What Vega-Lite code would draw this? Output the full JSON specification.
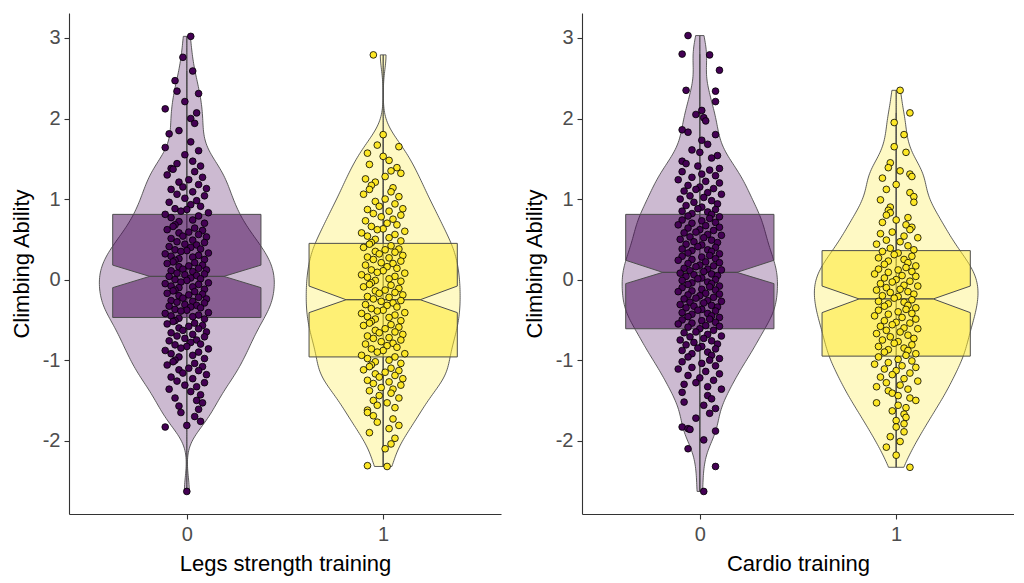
{
  "$schema": "https://vega.github.io/schema/vega-lite/v6.json",
  "background": "white",
  "padding": {"left": 10, "top": 13, "right": 0, "bottom": 6},
  "spacing": 22,
  "config": {
    "view": {"stroke": null},
    "axis": {
      "labelFont": "Liberation Sans", "titleFont": "Liberation Sans", "titleFontWeight": "normal",
      "domainColor": "#333333", "tickColor": "#333333", "domainWidth": 1.1, "tickWidth": 1.1,
      "labelColor": "#4d4d4d", "titleColor": "#000000", "labelFontSize": 20, "titleFontSize": 22,
      "tickSize": 5, "grid": false
    }
  },
  "datasets": {
    "legs0": [
      {"x":0.02,"y":3.02},{"x":-0.02,"y":2.76},{"x":0.03,"y":2.59},{"x":-0.06,"y":2.47},{"x":-0.05,"y":2.34},{"x":0.06,"y":2.31},{"x":-0.01,"y":2.21},
      {"x":-0.11,"y":2.12},{"x":0.05,"y":2.07},{"x":0.02,"y":2.0},{"x":0.04,"y":1.94},{"x":-0.04,"y":1.85},{"x":-0.09,"y":1.81},{"x":0.02,"y":1.71},{"x":-0.11,"y":1.64},
      {"x":0.06,"y":1.6},{"x":-0.01,"y":1.55},{"x":0.03,"y":1.47},{"x":-0.05,"y":1.44},{"x":0.07,"y":1.41},{"x":-0.08,"y":1.38},
      {"x":-0.07,"y":1.37},{"x":0.04,"y":1.34},{"x":-0.1,"y":1.3},{"x":0.08,"y":1.27},{"x":0.01,"y":1.24},{"x":-0.04,"y":1.21},{"x":0.06,"y":1.18},{"x":-0.02,"y":1.15},{"x":0.1,"y":1.13},
      {"x":-0.08,"y":1.12},{"x":0.03,"y":1.09},{"x":-0.05,"y":1.06},{"x":0.09,"y":1.04},{"x":-0.01,"y":1.01},{"x":0.05,"y":0.98},{"x":-0.09,"y":0.96},{"x":0.02,"y":0.93},{"x":0.07,"y":0.91},{"x":-0.06,"y":0.88},
      {"x":0.0,"y":0.87},{"x":-0.03,"y":0.85},{"x":0.11,"y":0.83},{"x":-0.11,"y":0.81},{"x":0.06,"y":0.79},{"x":-0.08,"y":0.77},{"x":0.03,"y":0.74},{"x":-0.04,"y":0.72},{"x":0.09,"y":0.7},{"x":-0.06,"y":0.68},{"x":-0.07,"y":0.66},{"x":0.04,"y":0.64},
      {"x":-0.1,"y":0.62},{"x":0.08,"y":0.61},{"x":0.01,"y":0.59},{"x":-0.04,"y":0.58},{"x":0.06,"y":0.56},{"x":-0.02,"y":0.54},{"x":0.1,"y":0.53},{"x":-0.08,"y":0.51},{"x":0.03,"y":0.49},{"x":-0.05,"y":0.47},{"x":0.09,"y":0.46},{"x":-0.01,"y":0.44},{"x":0.05,"y":0.43},{"x":-0.09,"y":0.41},{"x":0.02,"y":0.4},{"x":0.07,"y":0.38},
      {"x":-0.06,"y":0.37},{"x":0.0,"y":0.36},{"x":-0.03,"y":0.35},{"x":0.11,"y":0.33},{"x":-0.11,"y":0.32},{"x":0.06,"y":0.3},{"x":-0.08,"y":0.29},{"x":0.03,"y":0.28},{"x":-0.04,"y":0.26},{"x":0.09,"y":0.25},{"x":-0.06,"y":0.24},{"x":-0.07,"y":0.22},{"x":0.04,"y":0.21},{"x":-0.1,"y":0.2},{"x":0.08,"y":0.18},{"x":0.01,"y":0.17},{"x":-0.04,"y":0.16},{"x":0.06,"y":0.14},{"x":-0.02,"y":0.13},
      {"x":0.1,"y":0.12},{"x":-0.08,"y":0.11},{"x":0.03,"y":0.1},{"x":-0.05,"y":0.08},{"x":0.09,"y":0.07},{"x":-0.01,"y":0.06},{"x":0.05,"y":0.05},{"x":-0.09,"y":0.04},{"x":0.02,"y":0.02},{"x":0.07,"y":0.01},{"x":-0.06,"y":0.0},{"x":0.0,"y":-0.01},{"x":-0.03,"y":-0.03},{"x":0.11,"y":-0.04},{"x":-0.11,"y":-0.05},{"x":0.06,"y":-0.06},{"x":-0.08,"y":-0.08},{"x":0.03,"y":-0.09},{"x":-0.04,"y":-0.1},{"x":0.09,"y":-0.12},
      {"x":-0.06,"y":-0.13},{"x":-0.07,"y":-0.14},{"x":0.04,"y":-0.15},{"x":-0.1,"y":-0.17},{"x":0.08,"y":-0.18},{"x":0.01,"y":-0.19},{"x":-0.04,"y":-0.2},{"x":0.06,"y":-0.22},{"x":-0.02,"y":-0.23},{"x":0.1,"y":-0.24},{"x":-0.08,"y":-0.26},{"x":0.03,"y":-0.27},{"x":-0.05,"y":-0.28},{"x":0.09,"y":-0.29},{"x":-0.01,"y":-0.31},{"x":0.05,"y":-0.32},{"x":-0.09,"y":-0.33},{"x":0.02,"y":-0.34},{"x":0.07,"y":-0.35},{"x":-0.06,"y":-0.37},
      {"x":0.0,"y":-0.38},{"x":-0.03,"y":-0.39},{"x":0.11,"y":-0.41},{"x":-0.11,"y":-0.42},{"x":0.06,"y":-0.44},{"x":-0.08,"y":-0.45},{"x":0.03,"y":-0.46},{"x":-0.04,"y":-0.48},{"x":0.09,"y":-0.49},{"x":-0.06,"y":-0.51},{"x":-0.07,"y":-0.52},{"x":0.04,"y":-0.54},{"x":-0.1,"y":-0.55},{"x":0.08,"y":-0.57},{"x":0.01,"y":-0.58},{"x":-0.04,"y":-0.6},{"x":0.06,"y":-0.61},
      {"x":-0.02,"y":-0.63},{"x":0.1,"y":-0.65},{"x":-0.08,"y":-0.66},{"x":0.03,"y":-0.68},{"x":-0.05,"y":-0.7},{"x":0.09,"y":-0.71},{"x":-0.01,"y":-0.73},{"x":0.05,"y":-0.75},{"x":-0.09,"y":-0.76},{"x":0.02,"y":-0.78},{"x":0.07,"y":-0.8},{"x":-0.06,"y":-0.81},{"x":0.0,"y":-0.83},{"x":-0.03,"y":-0.85},{"x":0.11,"y":-0.86},
      {"x":-0.11,"y":-0.88},{"x":0.06,"y":-0.9},{"x":-0.08,"y":-0.92},{"x":0.03,"y":-0.94},{"x":-0.04,"y":-0.96},{"x":0.09,"y":-0.98},{"x":-0.06,"y":-1.0},{"x":-0.07,"y":-1.02},{"x":0.04,"y":-1.04},{"x":-0.1,"y":-1.06},{"x":0.08,"y":-1.08},{"x":0.01,"y":-1.1},{"x":-0.04,"y":-1.12},
      {"x":0.06,"y":-1.13},{"x":-0.02,"y":-1.16},{"x":0.1,"y":-1.18},{"x":-0.08,"y":-1.21},{"x":0.03,"y":-1.23},{"x":-0.05,"y":-1.26},{"x":0.09,"y":-1.28},{"x":-0.01,"y":-1.31},{"x":0.05,"y":-1.33},{"x":-0.09,"y":-1.36},
      {"x":0.02,"y":-1.39},{"x":0.07,"y":-1.43},{"x":-0.06,"y":-1.47},{"x":0.05,"y":-1.5},{"x":0.08,"y":-1.53},{"x":-0.04,"y":-1.57},{"x":0.06,"y":-1.61},
      {"x":-0.03,"y":-1.65},{"x":0.04,"y":-1.7},{"x":0.07,"y":-1.76},{"x":0.0,"y":-1.81},{"x":-0.11,"y":-1.83},{"x":0.0,"y":-2.63}
    ],
    "legs1": [
      {"x":0.95,"y":2.79},{"x":1.0,"y":1.8},{"x":0.97,"y":1.67},{"x":1.08,"y":1.65},
      {"x":0.92,"y":1.57},{"x":1.0,"y":1.53},{"x":1.03,"y":1.48},{"x":0.93,"y":1.43},{"x":1.07,"y":1.39},
      {"x":1.04,"y":1.35},{"x":1.09,"y":1.32},{"x":1.01,"y":1.28},{"x":0.91,"y":1.25},{"x":0.96,"y":1.21},{"x":0.94,"y":1.17},{"x":1.05,"y":1.14},
      {"x":0.93,"y":1.12},{"x":1.04,"y":1.09},{"x":0.9,"y":1.06},{"x":1.08,"y":1.03},{"x":1.01,"y":1.0},{"x":0.96,"y":0.97},{"x":1.06,"y":0.94},{"x":0.98,"y":0.91},{"x":1.1,"y":0.88},
      {"x":0.92,"y":0.87},{"x":1.03,"y":0.85},{"x":0.95,"y":0.82},{"x":1.09,"y":0.8},{"x":0.99,"y":0.78},{"x":1.05,"y":0.75},{"x":0.91,"y":0.73},{"x":1.02,"y":0.7},{"x":1.07,"y":0.68},{"x":0.94,"y":0.66},{"x":1.0,"y":0.63},
      {"x":0.97,"y":0.62},{"x":1.11,"y":0.6},{"x":0.89,"y":0.58},{"x":1.06,"y":0.56},{"x":0.92,"y":0.54},{"x":1.03,"y":0.52},{"x":0.96,"y":0.5},{"x":1.09,"y":0.48},{"x":0.94,"y":0.46},{"x":0.93,"y":0.44},{"x":1.04,"y":0.42},{"x":0.9,"y":0.4},{"x":1.08,"y":0.38},
      {"x":1.01,"y":0.37},{"x":0.96,"y":0.35},{"x":1.06,"y":0.34},{"x":0.98,"y":0.32},{"x":1.1,"y":0.3},{"x":0.92,"y":0.28},{"x":1.03,"y":0.27},{"x":0.95,"y":0.25},{"x":1.09,"y":0.23},{"x":0.99,"y":0.21},{"x":1.05,"y":0.2},{"x":0.91,"y":0.18},{"x":1.02,"y":0.16},{"x":1.07,"y":0.14},
      {"x":0.94,"y":0.12},{"x":1.0,"y":0.11},{"x":0.97,"y":0.09},{"x":1.11,"y":0.08},{"x":0.89,"y":0.06},{"x":1.06,"y":0.04},{"x":0.92,"y":0.03},{"x":1.03,"y":0.01},{"x":0.96,"y":-0.01},{"x":1.09,"y":-0.02},{"x":0.94,"y":-0.04},{"x":0.93,"y":-0.06},{"x":1.04,"y":-0.07},{"x":0.9,"y":-0.09},{"x":1.08,"y":-0.11},
      {"x":1.01,"y":-0.13},{"x":0.96,"y":-0.14},{"x":1.06,"y":-0.16},{"x":0.98,"y":-0.17},{"x":1.1,"y":-0.19},{"x":0.92,"y":-0.21},{"x":1.03,"y":-0.22},{"x":0.95,"y":-0.24},{"x":1.09,"y":-0.26},{"x":0.99,"y":-0.27},{"x":1.05,"y":-0.29},{"x":0.91,"y":-0.31},{"x":1.02,"y":-0.32},{"x":1.07,"y":-0.34},{"x":0.94,"y":-0.36},
      {"x":1.0,"y":-0.38},{"x":0.97,"y":-0.39},{"x":1.11,"y":-0.41},{"x":0.89,"y":-0.42},{"x":1.06,"y":-0.44},{"x":0.92,"y":-0.46},{"x":1.03,"y":-0.47},{"x":0.96,"y":-0.49},{"x":1.09,"y":-0.51},{"x":0.94,"y":-0.52},{"x":0.93,"y":-0.54},{"x":1.04,"y":-0.56},{"x":0.9,"y":-0.57},{"x":1.08,"y":-0.59},{"x":1.01,"y":-0.61},
      {"x":0.96,"y":-0.63},{"x":1.06,"y":-0.65},{"x":0.98,"y":-0.66},{"x":1.1,"y":-0.68},{"x":0.92,"y":-0.7},{"x":1.03,"y":-0.72},{"x":0.95,"y":-0.73},{"x":1.09,"y":-0.75},{"x":0.99,"y":-0.77},{"x":1.05,"y":-0.79},{"x":0.91,"y":-0.8},{"x":1.02,"y":-0.82},{"x":1.07,"y":-0.84},{"x":0.94,"y":-0.86},
      {"x":1.0,"y":-0.88},{"x":0.97,"y":-0.9},{"x":1.11,"y":-0.92},{"x":0.89,"y":-0.94},{"x":1.06,"y":-0.96},{"x":0.92,"y":-0.98},{"x":1.03,"y":-1.0},{"x":0.96,"y":-1.02},{"x":1.09,"y":-1.04},{"x":0.94,"y":-1.06},{"x":0.93,"y":-1.08},{"x":1.04,"y":-1.1},{"x":0.9,"y":-1.12},
      {"x":1.08,"y":-1.13},{"x":1.01,"y":-1.15},{"x":0.96,"y":-1.17},{"x":1.06,"y":-1.19},{"x":0.98,"y":-1.21},{"x":1.1,"y":-1.23},{"x":0.92,"y":-1.25},{"x":1.03,"y":-1.27},{"x":0.95,"y":-1.29},{"x":1.09,"y":-1.31},{"x":0.99,"y":-1.34},{"x":1.05,"y":-1.36},
      {"x":0.93,"y":-1.38},{"x":1.04,"y":-1.41},{"x":0.98,"y":-1.44},{"x":1.08,"y":-1.47},{"x":0.95,"y":-1.5},{"x":1.02,"y":-1.53},{"x":0.97,"y":-1.56},{"x":1.06,"y":-1.59},{"x":0.92,"y":-1.62},
      {"x":0.92,"y":-1.65},{"x":0.95,"y":-1.69},{"x":1.05,"y":-1.73},{"x":0.97,"y":-1.77},{"x":1.08,"y":-1.81},{"x":1.03,"y":-1.85},
      {"x":0.93,"y":-1.9},{"x":1.06,"y":-1.97},{"x":1.04,"y":-2.04},{"x":1.01,"y":-2.1},{"x":0.92,"y":-2.31},{"x":1.02,"y":-2.32}
    ],
    "cardio0": [
      {"x":-0.06,"y":3.03},{"x":-0.09,"y":2.8},{"x":0.05,"y":2.79},{"x":0.1,"y":2.6},{"x":-0.07,"y":2.35},{"x":0.08,"y":2.34},{"x":0.08,"y":2.21},{"x":0.01,"y":2.1},{"x":-0.02,"y":2.05},{"x":0.02,"y":2.01},{"x":0.03,"y":1.97},
      {"x":-0.09,"y":1.86},{"x":-0.06,"y":1.83},{"x":0.08,"y":1.8},{"x":0.01,"y":1.73},{"x":0.04,"y":1.68},
      {"x":-0.04,"y":1.61},{"x":0.0,"y":1.58},{"x":0.09,"y":1.54},{"x":0.06,"y":1.51},{"x":-0.09,"y":1.47},{"x":-0.07,"y":1.44},{"x":-0.01,"y":1.41},{"x":0.1,"y":1.38},
      {"x":0.05,"y":1.36},{"x":-0.09,"y":1.34},{"x":0.01,"y":1.31},{"x":0.08,"y":1.29},{"x":-0.04,"y":1.27},{"x":-0.11,"y":1.24},{"x":0.03,"y":1.22},{"x":0.1,"y":1.2},{"x":-0.06,"y":1.17},{"x":0.0,"y":1.15},{"x":0.07,"y":1.13},
      {"x":-0.02,"y":1.12},{"x":-0.08,"y":1.1},{"x":0.04,"y":1.08},{"x":0.11,"y":1.06},{"x":-0.05,"y":1.04},{"x":0.02,"y":1.02},{"x":-0.1,"y":1.0},{"x":0.06,"y":0.98},{"x":-0.03,"y":0.96},{"x":0.09,"y":0.94},{"x":-0.07,"y":0.92},{"x":0.01,"y":0.9},{"x":-0.01,"y":0.88},
      {"x":0.08,"y":0.87},{"x":-0.09,"y":0.85},{"x":0.04,"y":0.84},{"x":-0.04,"y":0.82},{"x":0.06,"y":0.81},{"x":-0.06,"y":0.79},{"x":0.1,"y":0.78},{"x":0.05,"y":0.76},{"x":-0.09,"y":0.74},{"x":0.01,"y":0.73},{"x":0.08,"y":0.71},{"x":-0.04,"y":0.7},{"x":-0.11,"y":0.68},{"x":0.03,"y":0.67},{"x":0.1,"y":0.65},{"x":-0.06,"y":0.64},
      {"x":0.0,"y":0.62},{"x":0.07,"y":0.61},{"x":-0.02,"y":0.59},{"x":-0.08,"y":0.58},{"x":0.04,"y":0.56},{"x":0.11,"y":0.55},{"x":-0.05,"y":0.53},{"x":0.02,"y":0.52},{"x":-0.1,"y":0.5},{"x":0.06,"y":0.49},{"x":-0.03,"y":0.47},{"x":0.09,"y":0.46},{"x":-0.07,"y":0.44},{"x":0.01,"y":0.43},{"x":-0.01,"y":0.41},{"x":0.08,"y":0.4},{"x":-0.09,"y":0.38},
      {"x":0.04,"y":0.37},{"x":-0.04,"y":0.36},{"x":0.06,"y":0.35},{"x":-0.06,"y":0.33},{"x":0.1,"y":0.32},{"x":0.05,"y":0.3},{"x":-0.09,"y":0.29},{"x":0.01,"y":0.28},{"x":0.08,"y":0.26},{"x":-0.04,"y":0.25},{"x":-0.11,"y":0.24},{"x":0.03,"y":0.22},{"x":0.1,"y":0.21},{"x":-0.06,"y":0.2},{"x":0.0,"y":0.18},{"x":0.07,"y":0.17},{"x":-0.02,"y":0.16},{"x":-0.08,"y":0.14},{"x":0.04,"y":0.13},
      {"x":0.11,"y":0.12},{"x":-0.05,"y":0.11},{"x":0.02,"y":0.1},{"x":-0.1,"y":0.08},{"x":0.06,"y":0.07},{"x":-0.03,"y":0.06},{"x":0.09,"y":0.05},{"x":-0.07,"y":0.04},{"x":0.01,"y":0.02},{"x":-0.01,"y":0.01},{"x":0.08,"y":0.0},{"x":-0.09,"y":-0.01},{"x":0.04,"y":-0.03},{"x":-0.04,"y":-0.04},{"x":0.06,"y":-0.05},{"x":-0.06,"y":-0.06},{"x":0.1,"y":-0.08},{"x":0.05,"y":-0.09},{"x":-0.09,"y":-0.1},{"x":0.01,"y":-0.12},
      {"x":0.08,"y":-0.13},{"x":-0.04,"y":-0.14},{"x":-0.11,"y":-0.15},{"x":0.03,"y":-0.17},{"x":0.1,"y":-0.18},{"x":-0.06,"y":-0.19},{"x":0.0,"y":-0.2},{"x":0.07,"y":-0.22},{"x":-0.02,"y":-0.23},{"x":-0.08,"y":-0.24},{"x":0.04,"y":-0.26},{"x":0.11,"y":-0.27},{"x":-0.05,"y":-0.28},{"x":0.02,"y":-0.29},{"x":-0.1,"y":-0.31},{"x":0.06,"y":-0.32},{"x":-0.03,"y":-0.33},{"x":0.09,"y":-0.34},{"x":-0.07,"y":-0.35},{"x":0.01,"y":-0.37},
      {"x":-0.01,"y":-0.38},{"x":0.08,"y":-0.39},{"x":-0.09,"y":-0.41},{"x":0.04,"y":-0.42},{"x":-0.04,"y":-0.43},{"x":0.06,"y":-0.45},{"x":-0.06,"y":-0.46},{"x":0.1,"y":-0.47},{"x":0.05,"y":-0.49},{"x":-0.09,"y":-0.5},{"x":0.01,"y":-0.51},{"x":0.08,"y":-0.53},{"x":-0.04,"y":-0.54},{"x":-0.11,"y":-0.55},{"x":0.03,"y":-0.57},{"x":0.1,"y":-0.58},{"x":-0.06,"y":-0.59},{"x":0.0,"y":-0.61},
      {"x":0.07,"y":-0.63},{"x":-0.02,"y":-0.65},{"x":-0.08,"y":-0.66},{"x":0.04,"y":-0.68},{"x":0.11,"y":-0.7},{"x":-0.05,"y":-0.71},{"x":0.02,"y":-0.73},{"x":-0.1,"y":-0.75},{"x":0.06,"y":-0.76},{"x":-0.03,"y":-0.78},{"x":0.09,"y":-0.8},{"x":-0.07,"y":-0.81},{"x":0.01,"y":-0.83},{"x":-0.01,"y":-0.85},{"x":0.08,"y":-0.86},
      {"x":-0.09,"y":-0.88},{"x":0.04,"y":-0.9},{"x":-0.04,"y":-0.92},{"x":0.06,"y":-0.94},{"x":-0.06,"y":-0.96},{"x":0.1,"y":-0.98},{"x":0.05,"y":-1.0},{"x":-0.09,"y":-1.02},{"x":0.01,"y":-1.04},{"x":0.08,"y":-1.07},{"x":-0.04,"y":-1.09},{"x":-0.11,"y":-1.11},
      {"x":0.03,"y":-1.14},{"x":0.1,"y":-1.17},{"x":-0.06,"y":-1.19},{"x":0.0,"y":-1.22},{"x":0.07,"y":-1.25},{"x":-0.02,"y":-1.28},{"x":-0.08,"y":-1.3},{"x":0.04,"y":-1.33},{"x":0.11,"y":-1.36},
      {"x":-0.09,"y":-1.4},{"x":0.04,"y":-1.44},{"x":0.06,"y":-1.48},{"x":-0.08,"y":-1.52},{"x":0.02,"y":-1.56},{"x":0.08,"y":-1.6},
      {"x":0.05,"y":-1.66},{"x":-0.02,"y":-1.72},{"x":-0.09,"y":-1.83},{"x":-0.06,"y":-1.85},{"x":-0.05,"y":-1.86},{"x":0.08,"y":-1.88},{"x":0.02,"y":-1.99},{"x":-0.06,"y":-2.1},{"x":0.08,"y":-2.32},{"x":0.02,"y":-2.63}
    ],
    "cardio1": [
      {"x":1.02,"y":2.35},{"x":1.07,"y":2.07},{"x":0.99,"y":1.95},{"x":1.04,"y":1.8},{"x":0.99,"y":1.65},{"x":1.05,"y":1.58},{"x":0.97,"y":1.45},
      {"x":0.96,"y":1.39},{"x":1.02,"y":1.35},{"x":1.07,"y":1.31},{"x":1.08,"y":1.28},{"x":0.93,"y":1.26},
      {"x":1.0,"y":1.18},{"x":0.95,"y":1.12},{"x":1.07,"y":1.08},{"x":1.09,"y":1.03},{"x":0.92,"y":0.99},{"x":1.09,"y":0.96},{"x":0.97,"y":0.9},
      {"x":0.96,"y":0.86},{"x":0.97,"y":0.83},{"x":0.95,"y":0.8},{"x":1.06,"y":0.77},{"x":1.0,"y":0.74},{"x":0.93,"y":0.71},{"x":1.05,"y":0.68},{"x":1.08,"y":0.65},
      {"x":1.07,"y":0.62},{"x":0.98,"y":0.59},{"x":0.92,"y":0.57},{"x":1.04,"y":0.54},{"x":1.11,"y":0.52},{"x":0.95,"y":0.49},{"x":1.02,"y":0.47},{"x":0.9,"y":0.44},{"x":1.06,"y":0.42},{"x":0.97,"y":0.39},
      {"x":1.09,"y":0.37},{"x":0.93,"y":0.35},{"x":1.01,"y":0.33},{"x":0.99,"y":0.31},{"x":1.08,"y":0.29},{"x":0.91,"y":0.27},{"x":1.04,"y":0.25},{"x":0.96,"y":0.23},{"x":1.06,"y":0.21},{"x":0.94,"y":0.19},{"x":1.1,"y":0.17},{"x":1.05,"y":0.15},{"x":0.91,"y":0.13},
      {"x":1.01,"y":0.12},{"x":1.08,"y":0.1},{"x":0.96,"y":0.09},{"x":0.89,"y":0.07},{"x":1.03,"y":0.05},{"x":1.1,"y":0.04},{"x":0.94,"y":0.02},{"x":1.0,"y":0.0},{"x":1.07,"y":-0.02},{"x":0.98,"y":-0.03},{"x":0.92,"y":-0.05},{"x":1.04,"y":-0.07},{"x":1.11,"y":-0.08},{"x":0.95,"y":-0.1},{"x":1.02,"y":-0.12},
      {"x":0.9,"y":-0.13},{"x":1.06,"y":-0.15},{"x":0.97,"y":-0.16},{"x":1.09,"y":-0.18},{"x":0.93,"y":-0.2},{"x":1.01,"y":-0.21},{"x":0.99,"y":-0.23},{"x":1.08,"y":-0.25},{"x":0.91,"y":-0.27},{"x":1.04,"y":-0.28},{"x":0.96,"y":-0.3},{"x":1.06,"y":-0.32},{"x":0.94,"y":-0.33},{"x":1.1,"y":-0.35},{"x":1.05,"y":-0.37},
      {"x":0.91,"y":-0.38},{"x":1.01,"y":-0.4},{"x":1.08,"y":-0.42},{"x":0.96,"y":-0.43},{"x":0.89,"y":-0.45},{"x":1.03,"y":-0.47},{"x":1.1,"y":-0.49},{"x":0.94,"y":-0.51},{"x":1.0,"y":-0.53},{"x":1.07,"y":-0.54},{"x":0.98,"y":-0.56},{"x":0.92,"y":-0.58},{"x":1.04,"y":-0.6},{"x":1.11,"y":-0.61},
      {"x":0.95,"y":-0.63},{"x":1.02,"y":-0.65},{"x":0.9,"y":-0.67},{"x":1.06,"y":-0.69},{"x":0.97,"y":-0.71},{"x":1.09,"y":-0.73},{"x":0.93,"y":-0.75},{"x":1.01,"y":-0.77},{"x":0.99,"y":-0.79},{"x":1.08,"y":-0.81},{"x":0.91,"y":-0.83},{"x":1.04,"y":-0.85},{"x":0.96,"y":-0.87},
      {"x":1.06,"y":-0.88},{"x":0.94,"y":-0.9},{"x":1.1,"y":-0.92},{"x":1.05,"y":-0.94},{"x":0.91,"y":-0.96},{"x":1.01,"y":-0.99},{"x":1.08,"y":-1.01},{"x":0.96,"y":-1.03},{"x":0.89,"y":-1.05},{"x":1.03,"y":-1.07},{"x":1.1,"y":-1.09},{"x":0.94,"y":-1.11},
      {"x":1.0,"y":-1.13},{"x":1.07,"y":-1.16},{"x":0.98,"y":-1.18},{"x":0.92,"y":-1.21},{"x":1.04,"y":-1.23},{"x":1.11,"y":-1.26},{"x":0.95,"y":-1.28},{"x":1.02,"y":-1.31},{"x":0.9,"y":-1.33},{"x":1.06,"y":-1.36},
      {"x":0.96,"y":-1.38},{"x":0.98,"y":-1.41},{"x":1.01,"y":-1.44},{"x":1.07,"y":-1.47},{"x":1.1,"y":-1.5},{"x":0.9,"y":-1.53},{"x":1.01,"y":-1.56},{"x":1.05,"y":-1.59},
      {"x":0.98,"y":-1.63},{"x":1.04,"y":-1.67},{"x":1.05,"y":-1.71},{"x":1.0,"y":-1.75},{"x":1.04,"y":-1.79},{"x":1.0,"y":-1.83},
      {"x":1.04,"y":-1.89},{"x":0.97,"y":-1.95},{"x":1.02,"y":-2.01},{"x":0.95,"y":-2.08},{"x":1.0,"y":-2.18},{"x":1.07,"y":-2.33}
    ],
    "legsBox": [
      {"g":0,"part":"upper","y":0.04,"w":0.5},{"g":0,"part":"upper","y":0.18,"w":1},{"g":0,"part":"upper","y":0.81,"w":1},
      {"g":0,"part":"lower","y":-0.47,"w":1},{"g":0,"part":"lower","y":-0.1,"w":1},{"g":0,"part":"lower","y":0.04,"w":0.5},
      {"g":1,"part":"upper","y":-0.25,"w":0.5},{"g":1,"part":"upper","y":-0.08,"w":1},{"g":1,"part":"upper","y":0.45,"w":1},
      {"g":1,"part":"lower","y":-0.96,"w":1},{"g":1,"part":"lower","y":-0.41,"w":1},{"g":1,"part":"lower","y":-0.25,"w":0.5}
    ],
    "cardioBox": [
      {"g":0,"part":"upper","y":0.09,"w":0.5},{"g":0,"part":"upper","y":0.24,"w":1},{"g":0,"part":"upper","y":0.81,"w":1},
      {"g":0,"part":"lower","y":-0.61,"w":1},{"g":0,"part":"lower","y":-0.05,"w":1},{"g":0,"part":"lower","y":0.09,"w":0.5},
      {"g":1,"part":"upper","y":-0.24,"w":0.5},{"g":1,"part":"upper","y":-0.08,"w":1},{"g":1,"part":"upper","y":0.36,"w":1},
      {"g":1,"part":"lower","y":-0.95,"w":1},{"g":1,"part":"lower","y":-0.41,"w":1},{"g":1,"part":"lower","y":-0.24,"w":0.5}
    ],
    "legsWhisker": [
      {"g":0,"y":0.81,"y2":2.59},{"g":0,"y":-0.47,"y2":-1.83},{"g":1,"y":0.45,"y2":1.8},{"g":1,"y":-0.96,"y2":-2.32}
    ],
    "cardioWhisker": [
      {"g":0,"y":0.81,"y2":2.8},{"g":0,"y":-0.61,"y2":-2.63},{"g":1,"y":0.36,"y2":2.07},{"g":1,"y":-0.95,"y2":-2.33}
    ]
  },
  "hconcat": [
    {
      "width": 432,
      "height": 501,
      "resolve": {"scale": {"x": "independent"}},
      "encoding": {
        "y": {"field": "y", "type": "quantitative", "title": "Climbing Ability",
              "scale": {"domain": [-2.91, 3.31], "nice": false, "zero": false},
              "axis": {"values": [-2, -1, 0, 1, 2, 3], "labelExpr": "'' + datum.value", "labelPadding": 4, "titlePadding": 9}}
      },
      "layer": [
        {
          "data": {"name": "legs0"},
          "transform": [{"density": "y", "bandwidth": 0.18, "extent": [-2.63, 3.02], "steps": 200, "as": ["y", "density"]}],
          "mark": {"type": "area", "orient": "horizontal", "fill": "#440154", "fillOpacity": 0.27, "stroke": "#4d4d4d", "strokeWidth": 0.9},
          "encoding": {
            "x": {"field": "density", "type": "quantitative", "stack": null, "scale": {"domain": [-0.5455, 1.4545], "nice": false, "zero": false}, "axis": null}
          }
        },
        {
          "data": {"name": "legs0"},
          "transform": [{"density": "y", "bandwidth": 0.18, "extent": [-2.63, 3.02], "steps": 200, "as": ["y", "density"]}],
          "mark": {"type": "area", "orient": "horizontal", "fill": "#440154", "fillOpacity": 0.27, "stroke": "#4d4d4d", "strokeWidth": 0.9},
          "encoding": {
            "x": {"field": "density", "type": "quantitative", "stack": null, "scale": {"domain": [-1.4545, 0.5455], "reverse": true, "nice": false, "zero": false}, "axis": null}
          }
        },
        {
          "data": {"name": "legs1"},
          "transform": [{"density": "y", "bandwidth": 0.18, "extent": [-2.32, 2.79], "steps": 200, "as": ["y", "density"]}],
          "mark": {"type": "area", "orient": "horizontal", "fill": "#FDE725", "fillOpacity": 0.27, "stroke": "#4d4d4d", "strokeWidth": 0.9},
          "encoding": {
            "x": {"field": "density", "type": "quantitative", "stack": null, "scale": {"domain": [-1.4545, 0.5455], "nice": false, "zero": false}, "axis": null}
          }
        },
        {
          "data": {"name": "legs1"},
          "transform": [{"density": "y", "bandwidth": 0.18, "extent": [-2.32, 2.79], "steps": 200, "as": ["y", "density"]}],
          "mark": {"type": "area", "orient": "horizontal", "fill": "#FDE725", "fillOpacity": 0.27, "stroke": "#4d4d4d", "strokeWidth": 0.9},
          "encoding": {
            "x": {"field": "density", "type": "quantitative", "stack": null, "scale": {"domain": [-0.5455, 1.4545], "reverse": true, "nice": false, "zero": false}, "axis": null}
          }
        },
        {
          "data": {"name": "legsBox"},
          "transform": [{"filter": "datum.g == 0"}, {"stack": "w", "groupby": ["part", "y"], "offset": "center", "as": ["b0", "b1"]}],
          "mark": {"type": "area", "orient": "horizontal", "fill": "#440154", "fillOpacity": 0.5, "stroke": "#4d4d4d", "strokeWidth": 1},
          "encoding": {
            "x": {"field": "b0", "type": "quantitative", "scale": {"domain": [-0.2947, 2.6192], "nice": false, "zero": false}, "axis": null},
            "x2": {"field": "b1"},
            "detail": {"field": "part"}
          }
        },
        {
          "data": {"name": "legsBox"},
          "transform": [{"filter": "datum.g == 1"}, {"stack": "w", "groupby": ["part", "y"], "offset": "center", "as": ["b0", "b1"]}],
          "mark": {"type": "area", "orient": "horizontal", "fill": "#FDE725", "fillOpacity": 0.5, "stroke": "#4d4d4d", "strokeWidth": 1},
          "encoding": {
            "x": {"field": "b0", "type": "quantitative", "scale": {"domain": [-1.6192, 1.2947], "nice": false, "zero": false}, "axis": null},
            "x2": {"field": "b1"},
            "detail": {"field": "part"}
          }
        },
        {
          "data": {"name": "legsWhisker"},
          "mark": {"type": "rule", "stroke": "#4d4d4d", "strokeWidth": 1},
          "encoding": {
            "x": {"field": "g", "type": "quantitative", "scale": {"domain": [-0.6, 1.6], "nice": false, "zero": false}, "axis": null},
            "y2": {"field": "y2"}
          }
        },
        {
          "data": {"name": "legs1"},
          "mark": {"type": "circle", "size": 45, "fill": "#FDE725", "opacity": 1, "stroke": "#000000", "strokeWidth": 0.8},
          "encoding": {
            "x": {"field": "x", "type": "quantitative", "scale": {"domain": [-0.6, 1.6], "nice": false, "zero": false}, "axis": null}
          }
        },
        {
          "data": {"name": "legs0"},
          "mark": {"type": "circle", "size": 45, "fill": "#440154", "opacity": 1, "stroke": "#000000", "strokeWidth": 0.8},
          "encoding": {
            "x": {"field": "x", "type": "quantitative", "scale": {"domain": [-0.6, 1.6], "nice": false, "zero": false},
                  "axis": {"values": [0, 1], "labelExpr": "'' + datum.value", "title": "Legs strength training", "labelPadding": 5, "titlePadding": 9}}
          }
        }
      ]
    },
    {
      "width": 432,
      "height": 501,
      "resolve": {"scale": {"x": "independent"}},
      "encoding": {
        "y": {"field": "y", "type": "quantitative", "title": "Climbing Ability",
              "scale": {"domain": [-2.91, 3.31], "nice": false, "zero": false},
              "axis": {"values": [-2, -1, 0, 1, 2, 3], "labelExpr": "'' + datum.value", "labelPadding": 4, "titlePadding": 9}}
      },
      "layer": [
        {
          "data": {"name": "cardio0"},
          "transform": [{"density": "y", "bandwidth": 0.18, "extent": [-2.63, 3.03], "steps": 200, "as": ["y", "density"]}],
          "mark": {"type": "area", "orient": "horizontal", "fill": "#440154", "fillOpacity": 0.27, "stroke": "#4d4d4d", "strokeWidth": 0.9},
          "encoding": {
            "x": {"field": "density", "type": "quantitative", "stack": null, "scale": {"domain": [-0.5714, 1.5238], "nice": false, "zero": false}, "axis": null}
          }
        },
        {
          "data": {"name": "cardio0"},
          "transform": [{"density": "y", "bandwidth": 0.18, "extent": [-2.63, 3.03], "steps": 200, "as": ["y", "density"]}],
          "mark": {"type": "area", "orient": "horizontal", "fill": "#440154", "fillOpacity": 0.27, "stroke": "#4d4d4d", "strokeWidth": 0.9},
          "encoding": {
            "x": {"field": "density", "type": "quantitative", "stack": null, "scale": {"domain": [-1.5238, 0.5714], "reverse": true, "nice": false, "zero": false}, "axis": null}
          }
        },
        {
          "data": {"name": "cardio1"},
          "transform": [{"density": "y", "bandwidth": 0.18, "extent": [-2.33, 2.35], "steps": 200, "as": ["y", "density"]}],
          "mark": {"type": "area", "orient": "horizontal", "fill": "#FDE725", "fillOpacity": 0.27, "stroke": "#4d4d4d", "strokeWidth": 0.9},
          "encoding": {
            "x": {"field": "density", "type": "quantitative", "stack": null, "scale": {"domain": [-1.5238, 0.5714], "nice": false, "zero": false}, "axis": null}
          }
        },
        {
          "data": {"name": "cardio1"},
          "transform": [{"density": "y", "bandwidth": 0.18, "extent": [-2.33, 2.35], "steps": 200, "as": ["y", "density"]}],
          "mark": {"type": "area", "orient": "horizontal", "fill": "#FDE725", "fillOpacity": 0.27, "stroke": "#4d4d4d", "strokeWidth": 0.9},
          "encoding": {
            "x": {"field": "density", "type": "quantitative", "stack": null, "scale": {"domain": [-0.5714, 1.5238], "reverse": true, "nice": false, "zero": false}, "axis": null}
          }
        },
        {
          "data": {"name": "cardioBox"},
          "transform": [{"filter": "datum.g == 0"}, {"stack": "w", "groupby": ["part", "y"], "offset": "center", "as": ["b0", "b1"]}],
          "mark": {"type": "area", "orient": "horizontal", "fill": "#440154", "fillOpacity": 0.5, "stroke": "#4d4d4d", "strokeWidth": 1},
          "encoding": {
            "x": {"field": "b0", "type": "quantitative", "scale": {"domain": [-0.2947, 2.6192], "nice": false, "zero": false}, "axis": null},
            "x2": {"field": "b1"},
            "detail": {"field": "part"}
          }
        },
        {
          "data": {"name": "cardioBox"},
          "transform": [{"filter": "datum.g == 1"}, {"stack": "w", "groupby": ["part", "y"], "offset": "center", "as": ["b0", "b1"]}],
          "mark": {"type": "area", "orient": "horizontal", "fill": "#FDE725", "fillOpacity": 0.5, "stroke": "#4d4d4d", "strokeWidth": 1},
          "encoding": {
            "x": {"field": "b0", "type": "quantitative", "scale": {"domain": [-1.6192, 1.2947], "nice": false, "zero": false}, "axis": null},
            "x2": {"field": "b1"},
            "detail": {"field": "part"}
          }
        },
        {
          "data": {"name": "cardioWhisker"},
          "mark": {"type": "rule", "stroke": "#4d4d4d", "strokeWidth": 1},
          "encoding": {
            "x": {"field": "g", "type": "quantitative", "scale": {"domain": [-0.6, 1.6], "nice": false, "zero": false}, "axis": null},
            "y2": {"field": "y2"}
          }
        },
        {
          "data": {"name": "cardio1"},
          "mark": {"type": "circle", "size": 45, "fill": "#FDE725", "opacity": 1, "stroke": "#000000", "strokeWidth": 0.8},
          "encoding": {
            "x": {"field": "x", "type": "quantitative", "scale": {"domain": [-0.6, 1.6], "nice": false, "zero": false}, "axis": null}
          }
        },
        {
          "data": {"name": "cardio0"},
          "mark": {"type": "circle", "size": 45, "fill": "#440154", "opacity": 1, "stroke": "#000000", "strokeWidth": 0.8},
          "encoding": {
            "x": {"field": "x", "type": "quantitative", "scale": {"domain": [-0.6, 1.6], "nice": false, "zero": false},
                  "axis": {"values": [0, 1], "labelExpr": "'' + datum.value", "title": "Cardio training", "labelPadding": 5, "titlePadding": 9}}
          }
        }
      ]
    }
  ]
}
